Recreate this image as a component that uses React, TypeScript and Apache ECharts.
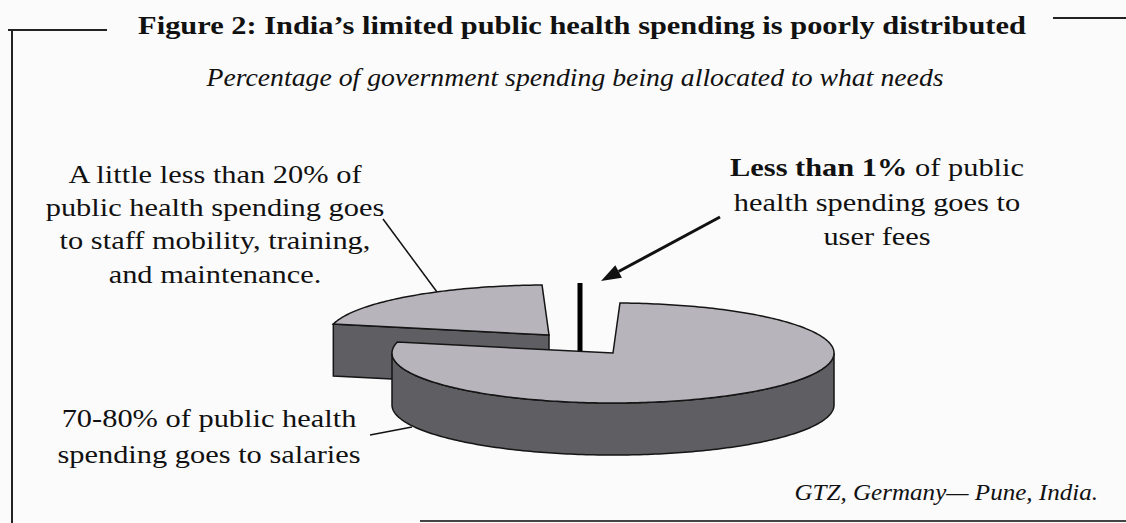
import React, { useEffect, useRef } from "react";
import * as echarts from "echarts";

// ---- data ----
const categories = ["User fees", "Salaries", "Staff mobility, training and maintenance"];
const shares = [1, 78, 21];
// painter's order (back to front)
const drawOrder = [2, 0, 1];

const titleText = "Figure 2: India’s limited public health spending is poorly distributed";
const subtitleText = "Percentage of government spending being allocated to what needs";
const staffNote = ["A little less than 20% of", "public health spending goes", "to staff mobility, training,", "and maintenance."];
const salaryNote = ["70-80% of public health", "spending goes to salaries"];
const feesNoteBold = "Less than 1%";
const feesNoteRest = [" of public", "health spending goes to", "user fees"];
const sourceText = "GTZ, Germany— Pune, India.";

// ---- style / geometry ----
const CX = 613;
const CY = 353;
const RX = 221;
const RY = 50;
const DEPTH = 52;
const START_ANGLE = -1.8;
const sliceStyle = [
  { dx: -33, dy: 0, kind: "bar" },
  { dx: 0, dy: 0, kind: "slice" },
  { dx: -64, dy: -18, kind: "slice" },
];
const TOP = "#b8b4bc";
const SIDE = "#5f5e62";
const EDGE = "#151515";
const SERIF = "'Liberation Serif', 'Times New Roman', serif";

function pt(cx: number, cy: number, deg: number, dz: number) {
  const r = (deg * Math.PI) / 180;
  return [cx + RX * Math.sin(r), cy - RY * Math.cos(r) + dz];
}

function arcPts(cx: number, cy: number, a1: number, a2: number, dz: number) {
  const pts: number[][] = [];
  const n = Math.max(2, Math.ceil(Math.abs(a2 - a1)));
  for (let k = 0; k <= n; k++) pts.push(pt(cx, cy, a1 + ((a2 - a1) * k) / n, dz));
  return pts;
}

export default function App() {
  const ref = useRef<HTMLDivElement>(null);
  useEffect(() => {
    document.body.style.margin = "0";
    const chart = echarts.init(ref.current!, null, { renderer: "svg" });
    const total = shares.reduce((a, b) => a + b, 0);
    const cum: number[] = [];
    shares.reduce((acc, v, i) => {
      cum[i] = acc;
      return acc + v;
    }, 0);

    const renderItem = (params: any, api: any) => {
      const idx = api.value(0) as number;
      const share = api.value(1) as number;
      const a1 = START_ANGLE + (cum[idx] / total) * 360;
      const a2 = a1 + (share / total) * 360;
      const st = sliceStyle[idx];
      const cx = CX + st.dx;
      const cy = CY + st.dy;
      const children: any[] = [];
      if (st.kind === "bar") {
        const mid = (a1 + a2) / 2;
        const outer = pt(cx, cy, mid, -20);
        children.push({
          type: "line",
          shape: { x1: cx, y1: cy, x2: outer[0], y2: outer[1] },
          style: { stroke: "#000", lineWidth: 5 },
        });
        return { type: "group", children };
      }
      const sideStyle = { fill: SIDE, stroke: EDGE, lineWidth: 1.5 };
      const n1 = ((a1 - 90) * Math.PI) / 180;
      if (Math.cos(n1) < 0) {
        const p = pt(cx, cy, a1, 0);
        children.push({
          type: "polygon",
          shape: { points: [[cx, cy], p, [p[0], p[1] + DEPTH], [cx, cy + DEPTH]] },
          style: sideStyle,
        });
      }
      const n2 = ((a2 + 90) * Math.PI) / 180;
      if (Math.cos(n2) < 0) {
        const p = pt(cx, cy, a2, 0);
        children.push({
          type: "polygon",
          shape: { points: [[cx, cy], p, [p[0], p[1] + DEPTH], [cx, cy + DEPTH]] },
          style: sideStyle,
        });
      }
      const s = Math.max(a1, 90);
      const e = Math.min(a2, 270);
      if (e > s) {
        const top = arcPts(cx, cy, s, e, 0);
        const bot = arcPts(cx, cy, s, e, DEPTH).reverse();
        children.push({
          type: "polygon",
          shape: { points: top.concat(bot) },
          style: sideStyle,
        });
      }
      children.push({
        type: "polygon",
        shape: { points: [[cx, cy]].concat(arcPts(cx, cy, a1, a2, 0)) },
        style: { fill: TOP, stroke: EDGE, lineWidth: 1.5 },
      });
      return { type: "group", children };
    };

    const txt = (text: string, x: number, y: number, size: number, sx: number, extra: any = {}) => ({
      type: "text",
      x,
      y,
      scaleX: sx,
      style: {
        text,
        fontFamily: SERIF,
        fontSize: size,
        fill: "#111",
        align: "center",
        verticalAlign: "middle",
        ...extra,
      },
    });

    const tail = [720, 217];
    const tip = [601, 281];
    const len = Math.hypot(tip[0] - tail[0], tip[1] - tail[1]);
    const ux = (tip[0] - tail[0]) / len;
    const uy = (tip[1] - tail[1]) / len;
    const bx = tip[0] - 20 * ux;
    const by = tip[1] - 20 * uy;

    const NOTE = 26;
    const NSX = 1.17;

    const graphics: any[] = [
      { type: "rect", shape: { x: 0, y: 0, width: 1126, height: 523 }, style: { fill: "#fbfbfb" }, z: -10 },
      { type: "line", shape: { x1: 8, y1: 30, x2: 107, y2: 30 }, style: { stroke: "#222", lineWidth: 2 } },
      { type: "line", shape: { x1: 12, y1: 30, x2: 12, y2: 523 }, style: { stroke: "#222", lineWidth: 2 } },
      { type: "line", shape: { x1: 1053, y1: 18, x2: 1126, y2: 18 }, style: { stroke: "#222", lineWidth: 2 } },
      { type: "line", shape: { x1: 420, y1: 521, x2: 1126, y2: 521 }, style: { stroke: "#444", lineWidth: 2 } },
      txt(titleText, 582, 25, 26, 1.17, { fontWeight: "bold" }),
      txt(subtitleText, 575, 77, 25, 1.11, { fontStyle: "italic" }),
      ...staffNote.map((l, i) => txt(l, 215, 174 + i * 33.3, NOTE, NSX)),
      ...salaryNote.map((l, i) => txt(l, 209, 418 + i * 36, NOTE, NSX)),
      {
        type: "text",
        x: 877,
        y: 167,
        scaleX: NSX,
        style: {
          text: `{b|${feesNoteBold}}{n|${feesNoteRest[0]}}`,
          align: "center",
          verticalAlign: "middle",
          rich: {
            b: { fontFamily: SERIF, fontSize: NOTE, fontWeight: "bold", fill: "#111" },
            n: { fontFamily: SERIF, fontSize: NOTE, fill: "#111" },
          },
        },
      },
      txt(feesNoteRest[1], 877, 202, NOTE, NSX),
      txt(feesNoteRest[2], 877, 236, NOTE, NSX),
      txt(sourceText, 1098, 492, 23, 1.09, { fontStyle: "italic", align: "right" }),
      { type: "line", shape: { x1: 383, y1: 219, x2: 437, y2: 292 }, style: { stroke: "#111", lineWidth: 1.5 } },
      { type: "line", shape: { x1: 370, y1: 435, x2: 412, y2: 427 }, style: { stroke: "#111", lineWidth: 1.5 } },
      { type: "line", shape: { x1: tail[0], y1: tail[1], x2: bx, y2: by }, style: { stroke: "#111", lineWidth: 3 } },
      {
        type: "polygon",
        shape: {
          points: [tip, [bx - 7 * uy, by + 7 * ux], [bx + 7 * uy, by - 7 * ux]],
        },
        style: { fill: "#111" },
      },
    ];

    chart.setOption({
      animation: false,
      backgroundColor: "#fbfbfb",
      graphic: graphics,
      series: [
        {
          type: "custom",
          coordinateSystem: "none",
          renderItem,
          silent: true,
          z: 5,
          data: drawOrder.map((i) => ({ name: categories[i], value: [i, shares[i]] })),
        },
      ],
    });
    return () => chart.dispose();
  }, []);
  return <div ref={ref} style={{ width: 1126, height: 523 }} />;
}
